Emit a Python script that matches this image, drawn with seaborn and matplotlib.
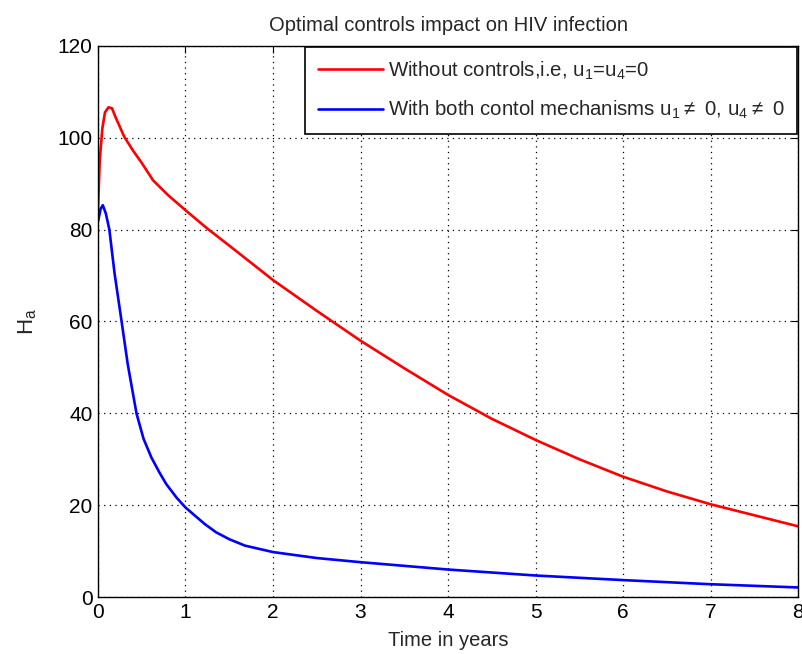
import matplotlib
matplotlib.use("Agg")
import matplotlib.pyplot as plt
import seaborn as sns
import pandas as pd

# Red: without controls
t_red = [0, 0.02, 0.05, 0.08, 0.12, 0.16, 0.2, 0.3, 0.4, 0.5, 0.63, 0.8, 1.0, 1.25, 1.5,
         1.86, 2.0, 2.5, 3.0, 3.5, 4.0, 4.5, 5.0, 5.5, 6.0, 6.5, 7.0, 7.5, 8.0]
h_red = [84, 95, 102, 105.5, 106.6, 106.4, 104.5, 100.2, 97.2, 94.5, 90.7, 87.5, 84.2, 80.2, 76.5,
         71.1, 69, 62.3, 55.8, 49.8, 44, 38.8, 34.2, 30, 26.2, 23, 20.2, 17.8, 15.4]
# Blue: with both controls
t_blue = [0, 0.03, 0.055, 0.09, 0.13, 0.19, 0.27, 0.34, 0.44, 0.52, 0.61, 0.7, 0.78, 0.9, 1.0,
          1.22, 1.35, 1.5, 1.68, 2.0, 2.5, 3.0, 3.5, 4.0, 5.0, 6.0, 7.0, 8.0]
h_blue = [81.7, 84.5, 85.3, 83.5, 80, 70.4, 60, 50.7, 40, 34.5, 30.4, 27.2, 24.6, 21.6, 19.5,
          15.9, 14.1, 12.6, 11.2, 9.8, 8.5, 7.6, 6.8, 6.0, 4.7, 3.7, 2.8, 2.1]

label_red = r"Without controls,i.e, u$_1$=u$_4$=0"
label_blue = r"With both contol mechanisms u$_1$$\neq$ 0, u$_4$$\neq$ 0"
title = "Optimal controls impact on HIV infection"
xlabel = "Time in years"
ylabel = r"H$_{\mathrm{a}}$"
xticks = [0, 1, 2, 3, 4, 5, 6, 7, 8]
yticks = [0, 20, 40, 60, 80, 100, 120]

df = pd.concat([
    pd.DataFrame({"t": t_red, "H": h_red, "series": label_red}),
    pd.DataFrame({"t": t_blue, "H": h_blue, "series": label_blue}),
], ignore_index=True)

sns.set_style("white")
plt.rcParams["font.family"] = ["Liberation Sans", "DejaVu Sans"]
plt.rcParams["mathtext.fontset"] = "custom"
plt.rcParams["mathtext.rm"] = "Liberation Sans"

fig = plt.figure(figsize=(8.03, 6.54), dpi=100)
ax = fig.add_axes([0.122, 0.087, 0.872, 0.843])

sns.lineplot(data=df, x="t", y="H", hue="series",
             palette={label_red: "#ff0000", label_blue: "#0000ff"},
             estimator=None, sort=False, linewidth=1.9, ax=ax)

ax.set_xlim(0, 8)
ax.set_ylim(0, 120)
ax.set_xticks(xticks)
ax.set_yticks(yticks)
ax.grid(True, linestyle=(0, (1, 3.5)), color="black", linewidth=0.9)
ax.tick_params(direction="in", top=True, right=True, length=5, width=0.8,
               labelsize=15, colors="black", pad=4)
for s in ax.spines.values():
    s.set_color("black")
    s.set_linewidth(1.0)
    s.set_visible(True)

ax.set_title(title, fontsize=14.5, pad=11)
ax.set_xlabel(xlabel, fontsize=14.5, labelpad=7)
ax.set_ylabel(ylabel, fontsize=16, labelpad=13)

leg = ax.legend(loc="upper right", fontsize=14.7, frameon=True, fancybox=False,
                borderaxespad=0.05, handlelength=3.2, handletextpad=0.25,
                labelspacing=0.85, borderpad=0.62)
leg.get_frame().set_edgecolor("black")
leg.get_frame().set_linewidth(1.2)
leg.get_frame().set_alpha(1)

fig.savefig("out.png", dpi=100)
